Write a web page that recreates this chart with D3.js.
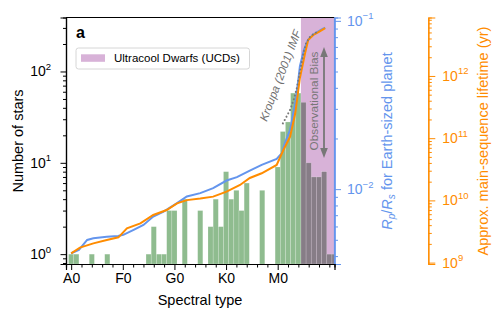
<!DOCTYPE html>
<meta charset="utf-8">
<style>
    body {
        margin: 0;
        background-color: #ffffff;
    }
    svg {
        font-family: "Liberation Sans", Arial, sans-serif;
    }
</style>
<body>
<svg width="501" height="321"></svg>
<script src="https://cdn.jsdelivr.net/npm/d3@7"></script>
<script>
    // spectral subtype index: A0 = 0, F0 = 10, G0 = 20, K0 = 30, M0 = 40, L0 = 50
    var subtypes = d3.range(0, 52);
    var starCounts = [1, 1, 0, 0, 1, 0, 0, 1, 0, 0,
        0, 0, 0, 0, 0, 1, 2, 1, 1, 3,
        3, 0, 4, 0, 0, 3, 0, 2, 4, 2,
        8, 4, 5, 3, 6, 0, 0, 5, 0, 0,
        9, 22, 28, 58, 58, 46, 10, 7, 7, 8,
        1, 1];
    var classNames = ["A0", "F0", "G0", "K0", "M0"];
    var classTicks = [0, 10, 20, 30, 40];
    var ucdStart = 44.5;

    // Rp/Rs of an Earth-sized planet (blue, right axis)
    var rpType = [0, 1.5, 3.1, 4.3, 6.9, 9.1, 10.1, 12.1, 14, 15.9, 17.9, 20.5, 22.4, 25, 27.5, 30.1,
        32.1, 34.6, 36.9, 39.8, 40.8, 41.4, 42.4, 43.4, 44, 44.3, 45.1, 45.9, 46.9, 47.9, 48.6, 49.2];
    var rpValue = [4.16e-3, 4.35e-3, 4.99e-3, 5.11e-3, 5.22e-3, 5.27e-3, 5.35e-3, 5.73e-3, 6.13e-3,
        6.87e-3, 7.36e-3, 8.26e-3, 9.04e-3, 9.47e-3, 1.014e-2, 1.125e-2, 1.178e-2, 1.29e-2, 1.395e-2,
        1.514e-2, 1.638e-2, 1.88e-2, 2.25e-2, 3.25e-2, 4.47e-2, 5.37e-2, 6.75e-2, 7.74e-2, 8.29e-2,
        8.67e-2, 8.94e-2, 9.12e-2];

    // main-sequence lifetime in years (orange, far right axis)
    var lifeType = [0, 1.7, 4.3, 6.9, 9.15, 10.8, 13.4, 15.9, 18.5, 20.5, 22.4, 25, 27.5, 30.1, 32.7,
        34.6, 36.9, 39.8, 41.1, 42.4, 43.4, 44.3, 45.3, 45.9, 46.9, 47.9, 49.2];
    var lifeValue = [1.41e9, 1.74e9, 2.04e9, 2.31e9, 2.55e9, 3.56e9, 4.28e9, 5.82e9, 7.01e9, 8.98e9,
        1.01e10, 1.07e10, 1.15e10, 1.38e10, 1.77e10, 2.29e10, 2.73e10, 3.71e10, 6.46e10, 1.06e11,
        2.51e11, 9.29e11, 2.32e12, 3.79e12, 4.56e12, 5.05e12, 5.85e12];

    // Kroupa (2001) IMF, dotted
    var kroupaType = [41, 41.7, 42.4, 43.2, 43.7, 44, 44.5, 45, 45.5, 46.3, 47.2, 47.9];
    var kroupaValue = [27, 32, 38, 51, 66, 81, 113, 159, 205, 242, 263, 274];

    var countTicks = [1, 10, 100];
    var rpTicks = [0.01, 0.1];
    var lifeTicks = [1e9, 1e10, 1e11, 1e12];

    var blue = "#6495ed",
        orange = "#ff8c00",
        purple = "#d8b2d8";

    var svg = d3.select("svg"),
        plotL = 66,
        plotR = 334.5,
        plotT = 17.5,
        plotB = 264;

    var x = d3.scaleLinear().domain([-1, 51]).range([plotL, plotR]);
    var yN = d3.scaleLog().domain([0.78, 390]).range([plotB, plotT]);
    var yR = d3.scaleLog().domain([3.59e-3, 0.1047]).range([plotB, plotT]);
    var yT = d3.scaleLog().domain([9.5e8, 8.7e12]).range([plotB, plotT]);

    svg.append("clipPath").attr("id", "plot")
        .append("rect")
        .attr("x", plotL).attr("y", plotT)
        .attr("width", plotR - plotL).attr("height", plotB - plotT);

    var g = svg.append("g").attr("clip-path", "url(#plot)");

    // ultracool dwarf region
    g.append("rect")
        .attr("x", x(ucdStart)).attr("y", plotT)
        .attr("width", plotR - x(ucdStart)).attr("height", plotB - plotT)
        .attr("fill", purple);

    var bars = subtypes.map(function(s, i) {
        return { type: s, count: starCounts[i] };
    }).filter(function(d) { return d.count > 0; });

    g.selectAll(".bar")
        .data(bars)
        .enter().append("rect")
        .attr("class", "bar")
        .attr("x", function(d) { return x(d.type - 0.5); })
        .attr("width", x(1) - x(0))
        .attr("y", function(d) { return yN(d.count); })
        .attr("height", function(d) { return plotB - yN(d.count); })
        .attr("fill", function(d) { return d.type > ucdStart ? "#877d87" : "#8fbc8f"; })
        .attr("stroke", "#ffffff")
        .attr("stroke-opacity", 0.3)
        .attr("stroke-width", 0.6);

    var rpLine = d3.line()
        .x(function(d, i) { return x(rpType[i]); })
        .y(function(d) { return yR(d); });
    var lifeLine = d3.line()
        .x(function(d, i) { return x(lifeType[i]); })
        .y(function(d) { return yT(d); });
    var kroupaLine = d3.line()
        .x(function(d, i) { return x(kroupaType[i]); })
        .y(function(d) { return yN(d); });

    g.append("path")
        .attr("d", rpLine(rpValue))
        .attr("fill", "none")
        .attr("stroke", blue)
        .attr("stroke-width", 2);

    g.append("path")
        .attr("d", lifeLine(lifeValue))
        .attr("fill", "none")
        .attr("stroke", orange)
        .attr("stroke-width", 2);

    g.append("path")
        .attr("d", kroupaLine(kroupaValue))
        .attr("fill", "none")
        .attr("stroke", "#777777")
        .attr("stroke-width", 2)
        .attr("stroke-linecap", "round")
        .attr("stroke-dasharray", "0.1,3.7");

    // observational bias double arrow
    var ax = 324, a0 = 47, a1 = 158;
    svg.append("line")
        .attr("x1", ax).attr("x2", ax)
        .attr("y1", a0 + 8).attr("y2", a1 - 8)
        .attr("stroke", "#777777").attr("stroke-width", 1.8);
    svg.append("path")
        .attr("d", "M" + ax + "," + a0 + "L" + (ax - 3.8) + "," + (a0 + 10) + "L" + (ax + 3.8) + "," + (a0 + 10) + "Z")
        .attr("fill", "#777777");
    svg.append("path")
        .attr("d", "M" + ax + "," + a1 + "L" + (ax - 3.8) + "," + (a1 - 10) + "L" + (ax + 3.8) + "," + (a1 - 10) + "Z")
        .attr("fill", "#777777");

    svg.append("text")
        .attr("transform", "translate(318,101) rotate(-90)")
        .attr("text-anchor", "middle")
        .attr("font-size", "11.8px")
        .attr("fill", "#777777")
        .text("Observational Bias");

    svg.append("text")
        .attr("transform", "translate(284,77) rotate(-69)")
        .attr("text-anchor", "middle")
        .attr("font-size", "11.5px")
        .attr("font-style", "italic")
        .attr("fill", "#707070")
        .text("Kroupa (2001) IMF");

    // frame
    svg.append("line").attr("x1", plotL).attr("x2", plotR).attr("y1", plotT).attr("y2", plotT)
        .attr("stroke", "#000").attr("stroke-width", 1.2);

    function superLabels(sel, scale, ticks, anchor, dx, color) {
        ticks.forEach(function(v) {
            var t = sel.append("text")
                .attr("x", dx)
                .attr("y", scale(v) + 5)
                .attr("text-anchor", anchor)
                .attr("font-size", "14px")
                .attr("fill", color);
            t.append("tspan").text("10");
            t.append("tspan")
                .attr("font-size", "9.5px")
                .attr("dy", -6.5)
                .text(String(Math.round(Math.log10(v))).replace("-", "\u2212"));
        });
    }

    function minorOf(scale) {
        var out = [];
        var d = scale.domain();
        for (var e = Math.floor(Math.log10(d[0])); e <= Math.ceil(Math.log10(d[1])); e++) {
            for (var m = 2; m <= 9; m++) {
                var v = m * Math.pow(10, e);
                if (v >= d[0] && v <= d[1]) out.push(v);
            }
        }
        return out;
    }

    function styleAxis(a, color) {
        a.select(".domain").attr("stroke", color).attr("stroke-width", 1.2);
        a.selectAll(".tick line").attr("stroke", color).attr("stroke-width", 1);
    }

    // left axis: number of stars
    var gl = svg.append("g").attr("transform", "translate(" + plotL + ",0)");
    gl.append("g").call(d3.axisLeft(yN).tickValues(minorOf(yN)).tickSize(3).tickFormat(""))
        .call(styleAxis, "#000");
    gl.append("g").call(d3.axisLeft(yN).tickValues(countTicks).tickSize(5.5).tickFormat(""))
        .call(styleAxis, "#000");
    superLabels(gl, yN, countTicks, "end", -15, "#000");

    // right axis: Rp/Rs
    var gr = svg.append("g").attr("transform", "translate(" + plotR + ",0)");
    gr.append("g").call(d3.axisRight(yR).tickValues(minorOf(yR)).tickSize(3.5).tickFormat(""))
        .call(styleAxis, blue);
    gr.append("g").call(d3.axisRight(yR).tickValues(rpTicks).tickSize(6.5).tickFormat(""))
        .call(styleAxis, blue);
    superLabels(gr, yR, rpTicks, "start", 12.5, blue);

    // far right axis: lifetime
    var go = svg.append("g").attr("transform", "translate(428.3,0)");
    go.append("g").call(d3.axisRight(yT).tickValues(minorOf(yT)).tickSize(3.5).tickFormat(""))
        .call(styleAxis, orange);
    go.append("g").call(d3.axisRight(yT).tickValues(lifeTicks).tickSize(7).tickFormat(""))
        .call(styleAxis, orange);
    superLabels(go, yT, lifeTicks, "start", 14, orange);

    // bottom axis: spectral type
    var minorTypes = d3.range(2, 51, 2).filter(function(v) { return classTicks.indexOf(v) < 0; });
    var gb = svg.append("g").attr("transform", "translate(0," + plotB + ")");
    gb.append("g").call(d3.axisBottom(x).tickValues(minorTypes).tickSize(3.5).tickFormat(""))
        .call(styleAxis, "#000");
    gb.append("g").call(d3.axisBottom(x).tickValues(classTicks).tickSize(6)
            .tickFormat(function(d, i) { return classNames[i]; }))
        .call(styleAxis, "#000")
        .selectAll("text")
        .attr("font-size", "14px")
        .attr("font-family", "Liberation Sans, Arial, sans-serif")
        .attr("fill", "#000")
        .attr("y", 9.5);

    // right spine drawn on top in blue
    svg.append("line").attr("x1", plotR).attr("x2", plotR).attr("y1", plotT).attr("y2", plotB)
        .attr("stroke", blue).attr("stroke-width", 1.2);

    // axis titles
    svg.append("text")
        .attr("x", 200).attr("y", 305)
        .attr("text-anchor", "middle")
        .attr("font-size", "14.5px")
        .text("Spectral type");

    svg.append("text")
        .attr("transform", "translate(22.5,141) rotate(-90)")
        .attr("text-anchor", "middle")
        .attr("font-size", "14.5px")
        .text("Number of stars");

    var rt = svg.append("text")
        .attr("transform", "translate(392,141) rotate(-90)")
        .attr("text-anchor", "middle")
        .attr("font-size", "14.5px")
        .attr("fill", blue);
    rt.append("tspan").attr("font-style", "italic").text("R");
    rt.append("tspan").attr("font-style", "italic").attr("font-size", "10px").attr("dy", 3).text("p");
    rt.append("tspan").attr("dy", -3).text("/");
    rt.append("tspan").attr("font-style", "italic").text("R");
    rt.append("tspan").attr("font-style", "italic").attr("font-size", "10px").attr("dy", 3).text("s");
    rt.append("tspan").attr("dy", -3).text(" for Earth-sized planet");

    svg.append("text")
        .attr("transform", "translate(488,141) rotate(-90)")
        .attr("text-anchor", "middle")
        .attr("font-size", "14.5px")
        .attr("fill", orange)
        .text("Approx. main-sequence lifetime (yr)");

    // panel letter
    svg.append("text")
        .attr("x", 76).attr("y", 37.5)
        .attr("font-size", "16px")
        .attr("font-weight", "bold")
        .text("a");

    // legend
    var lg = svg.append("g");
    lg.append("rect")
        .attr("x", 76).attr("y", 48).attr("width", 173.5).attr("height", 21).attr("rx", 2.5)
        .attr("fill", "#ffffff").attr("fill-opacity", 0.8)
        .attr("stroke", "#cccccc").attr("stroke-width", 0.8);
    lg.append("rect")
        .attr("x", 81).attr("y", 54.3).attr("width", 24).attr("height", 7.5)
        .attr("fill", purple);
    lg.append("text")
        .attr("x", 114).attr("y", 62.3)
        .attr("font-size", "11.5px")
        .text("Ultracool Dwarfs (UCDs)");
</script>
</body>
